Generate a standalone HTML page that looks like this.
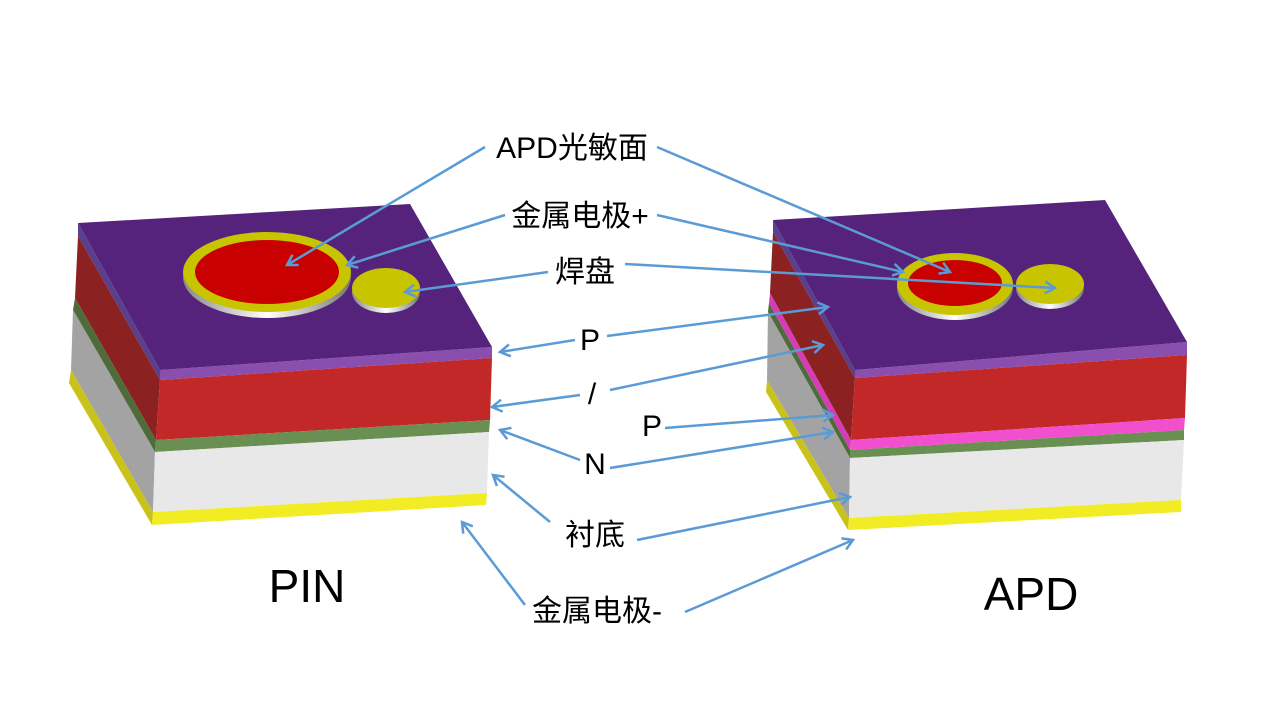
<!DOCTYPE html>
<html><head><meta charset="utf-8"><style>
html,body{margin:0;padding:0;background:#fff;}
svg{display:block}
text{font-family:"Liberation Sans","Noto Sans CJK SC",sans-serif;fill:#000}
</style></head><body>
<svg width="1280" height="720" viewBox="0 0 1280 720" xmlns="http://www.w3.org/2000/svg">
<defs>
<marker id="a" markerWidth="14" markerHeight="14" refX="11" refY="7" orient="auto" markerUnits="userSpaceOnUse">
<path d="M1,1 L11,7 L1,13" fill="none" stroke="#5b9bd5" stroke-width="2.5"/>
</marker>
<linearGradient id="rim" x1="0" x2="1"><stop offset="0" stop-color="#888"/><stop offset="0.5" stop-color="#fff"/><stop offset="1" stop-color="#777"/></linearGradient>
</defs>

<polygon points="78,223 160,370 160,380 78,236" fill="#5a3f8c"/>
<polygon points="78,236 160,380 156,440 75,298" fill="#8b2121"/>
<polygon points="75,298 156,440 155,452 73,310" fill="#4e6b3a"/>
<polygon points="73,310 155,452 153,512 71,370" fill="#a3a3a3"/>
<polygon points="71,370 153,512 152,525 69,383" fill="#c9c21a"/>
<polygon points="160,370 492,347 492,358 160,380" fill="#8a4fae"/>
<polygon points="160,380 492,358 490,420 156,440" fill="#c22828"/>
<polygon points="156,440 490,420 489,432 155,452" fill="#6a8f52"/>
<polygon points="155,452 489,432 487,493 153,512" fill="#e8e8e8"/>
<polygon points="153,512 487,493 486,505 152,525" fill="#f2ec24"/>
<polygon points="78,223 410,204 492,347 160,370" fill="#55237b"/>
<ellipse cx="267" cy="277" rx="84" ry="41" fill="url(#rim)"/>
<ellipse cx="267" cy="272" rx="84" ry="40" fill="#c9c400"/>
<ellipse cx="267" cy="272" rx="72" ry="32" fill="#c80000"/>
<ellipse cx="386" cy="292" rx="34" ry="21" fill="url(#rim)"/>
<ellipse cx="386" cy="288" rx="34" ry="20" fill="#c9c400"/>

<polygon points="773,220 855,370 855,378 773,232" fill="#5a3f8c"/>
<polygon points="773,232 855,378 851,440 770,293" fill="#8b2121"/>
<polygon points="770,293 851,440 850,450 769,303" fill="#d53cb5"/>
<polygon points="769,303 850,450 850,458 768,312" fill="#4e6b3a"/>
<polygon points="768,312 850,458 849,518 767,380" fill="#a3a3a3"/>
<polygon points="767,380 849,518 848,530 766,392" fill="#c9c21a"/>
<polygon points="855,370 1187,342 1187,355 855,378" fill="#8a4fae"/>
<polygon points="855,378 1187,355 1185,418 851,440" fill="#c22828"/>
<polygon points="851,440 1185,418 1184,430 850,450" fill="#f24fcf"/>
<polygon points="850,450 1184,430 1184,440 850,458" fill="#6a8f52"/>
<polygon points="850,458 1184,440 1181,500 849,518" fill="#e8e8e8"/>
<polygon points="849,518 1181,500 1181,512 848,530" fill="#f2ec24"/>
<polygon points="773,220 1105,200 1187,342 855,370" fill="#55237b"/>
<ellipse cx="955" cy="288" rx="58" ry="32" fill="url(#rim)"/>
<ellipse cx="955" cy="284" rx="58" ry="31" fill="#c9c400"/>
<ellipse cx="955" cy="283" rx="47" ry="23" fill="#c80000"/>
<ellipse cx="1050" cy="288" rx="34" ry="21" fill="url(#rim)"/>
<ellipse cx="1050" cy="284" rx="34" ry="20" fill="#c9c400"/>

<g stroke="#5b9bd5" stroke-width="2.5" fill="none" marker-end="url(#a)">
<line x1="485" y1="147" x2="287" y2="265"/>
<line x1="657" y1="147" x2="950" y2="272"/>
<line x1="505" y1="215" x2="347" y2="265"/>
<line x1="657" y1="215" x2="903" y2="272"/>
<line x1="548" y1="272" x2="405" y2="292"/>
<line x1="625" y1="264" x2="1055" y2="288"/>
<line x1="575" y1="340" x2="500" y2="352"/>
<line x1="607" y1="336" x2="828" y2="307"/>
<line x1="580" y1="395" x2="492" y2="407"/>
<line x1="610" y1="390" x2="823" y2="345"/>
<line x1="665" y1="428" x2="833" y2="415"/>
<line x1="580" y1="460" x2="500" y2="430"/>
<line x1="610" y1="468" x2="833" y2="432"/>
<line x1="550" y1="522" x2="493" y2="475"/>
<line x1="637" y1="540" x2="850" y2="497"/>
<line x1="525" y1="605" x2="462" y2="522"/>
<line x1="685" y1="612" x2="853" y2="540"/>
</g>

<g font-size="30" text-anchor="middle">
<text x="572" y="158">APD光敏面</text>
<text x="580" y="226">金属电极+</text>
<text x="585" y="282">焊盘</text>
<text x="590" y="350">P</text>
<text x="592" y="404">/</text>
<text x="652" y="436">P</text>
<text x="595" y="474">N</text>
<text x="595" y="545">衬底</text>
<text x="597" y="621">金属电极-</text>
</g>
<text x="307" y="602" font-size="46" text-anchor="middle">PIN</text>
<text x="1031" y="610" font-size="46" text-anchor="middle">APD</text>
</svg>
</body></html>
